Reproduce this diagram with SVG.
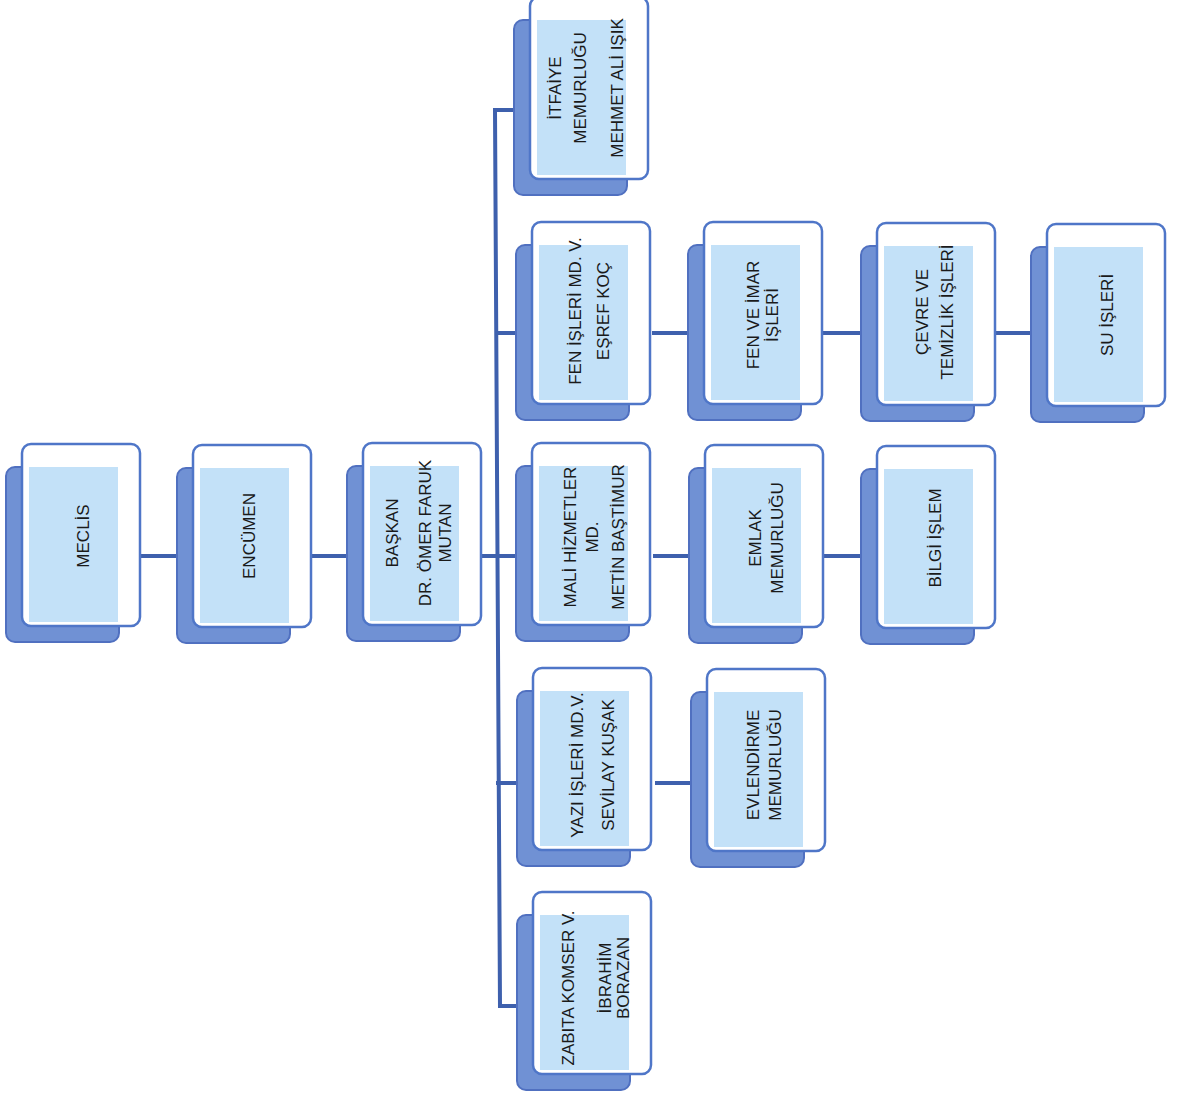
<svg xmlns="http://www.w3.org/2000/svg" xmlns:xlink="http://www.w3.org/1999/xlink" width="1181" height="1106" viewBox="0 0 1181 1106">
<style>
.sh{fill:#7091d4;stroke:#5070c0;stroke-width:2}
.card{fill:#ffffff;stroke:#4f76c8;stroke-width:2.5}
.inner{fill:#c3e1f8}
.lbl{font-family:"Liberation Sans",Arial,sans-serif;font-size:17px;fill:#1a1a1a;text-anchor:middle;dominant-baseline:central}
.conn{stroke:#3e60ad;stroke-width:4;fill:none}
</style>
<defs>
<g id="box">
<rect class="sh" x="-16" y="23" width="113" height="175" rx="9"/>
<rect class="card" x="0" y="0" width="118" height="182" rx="9"/>
<rect class="inner" x="7" y="23" width="89" height="155"/>
</g>
</defs>
<rect width="1181" height="1106" fill="#ffffff"/>
<g id="connectors">
<path class="conn" d="M516,110 H495 L500,1006 H521"/>
<path class="conn" d="M140,556 H178 M311,556 H348 M481,556 H518 M653,556 H690 M824,556 H862"/>
<path class="conn" d="M496,333 H518 M652,333 H689 M823,333 H861 M995,333 H1032"/>
<path class="conn" d="M496,783 H519 M655,783 H692"/>
</g>
<g id="n-meclis" transform="translate(22,444)"><use xlink:href="#box"/>
<text class="lbl" transform="translate(0,92) rotate(-90)"><tspan x="0" y="61">MECLİS</tspan></text></g>
<g id="n-encumen" transform="translate(193,445)"><use xlink:href="#box"/>
<text class="lbl" transform="translate(0,91) rotate(-90)"><tspan x="0" y="56">ENCÜMEN</tspan></text></g>
<g id="n-baskan" transform="translate(363,443)"><use xlink:href="#box"/>
<text class="lbl" transform="translate(0,90) rotate(-90)"><tspan x="0" y="29">BAŞKAN</tspan><tspan x="0" y="62">DR. ÖMER FARUK</tspan><tspan x="0" y="82">MUTAN</tspan></text></g>
<g id="n-mali" transform="translate(532,443)"><use xlink:href="#box"/>
<text class="lbl" transform="translate(0,94) rotate(-90)"><tspan x="0" y="38">MALİ HİZMETLER</tspan><tspan x="0" y="60">MD.</tspan><tspan x="0" y="86">METİN BAŞTİMUR</tspan></text></g>
<g id="n-emlak" transform="translate(705,445)"><use xlink:href="#box"/>
<text class="lbl" transform="translate(0,93) rotate(-90)"><tspan x="0" y="50">EMLAK</tspan><tspan x="0" y="72">MEMURLUĞU</tspan></text></g>
<g id="n-bilgi" transform="translate(877,446)"><use xlink:href="#box"/>
<text class="lbl" transform="translate(0,92) rotate(-90)"><tspan x="0" y="58">BİLGİ İŞLEM</tspan></text></g>
<g id="n-itfaiye" transform="translate(530,-3)"><use xlink:href="#box"/>
<text class="lbl" transform="translate(0,91) rotate(-90)"><tspan x="0" y="25">İTFAİYE</tspan><tspan x="0" y="50">MEMURLUĞU</tspan><tspan x="0" y="87">MEHMET ALİ IŞIK</tspan></text></g>
<g id="n-fen" transform="translate(532,222)"><use xlink:href="#box"/>
<text class="lbl" transform="translate(0,89) rotate(-90)"><tspan x="0" y="43">FEN İŞLERİ MD. V.</tspan><tspan x="0" y="71">EŞREF KOÇ</tspan></text></g>
<g id="n-fenimar" transform="translate(704,222)"><use xlink:href="#box"/>
<text class="lbl" transform="translate(0,93) rotate(-90)"><tspan x="0" y="49">FEN VE İMAR</tspan><tspan x="0" y="68">İŞLERİ</tspan></text></g>
<g id="n-cevre" transform="translate(877,223)"><use xlink:href="#box"/>
<text class="lbl" transform="translate(0,89) rotate(-90)"><tspan x="0" y="45">ÇEVRE VE</tspan><tspan x="0" y="70">TEMİZLİK İŞLERİ</tspan></text></g>
<g id="n-su" transform="translate(1047,224)"><use xlink:href="#box"/>
<text class="lbl" transform="translate(0,91) rotate(-90)"><tspan x="0" y="60">SU İŞLERİ</tspan></text></g>
<g id="n-yazi" transform="translate(533,668)"><use xlink:href="#box"/>
<text class="lbl" transform="translate(0,97) rotate(-90)"><tspan x="0" y="44">YAZI İŞLERİ MD.V.</tspan><tspan x="0" y="75">SEVİLAY KUŞAK</tspan></text></g>
<g id="n-evlendirme" transform="translate(707,669)"><use xlink:href="#box"/>
<text class="lbl" transform="translate(0,96) rotate(-90)"><tspan x="0" y="46">EVLENDİRME</tspan><tspan x="0" y="68">MEMURLUĞU</tspan></text></g>
<g id="n-zabita" transform="translate(533,892)"><use xlink:href="#box"/>
<text class="lbl" transform="translate(0,90) rotate(-90)"><tspan x="-6" y="35">ZABITA KOMSER V.</tspan><tspan x="4" y="72">İBRAHİM</tspan><tspan x="4" y="90">BORAZAN</tspan></text></g>
</svg>
